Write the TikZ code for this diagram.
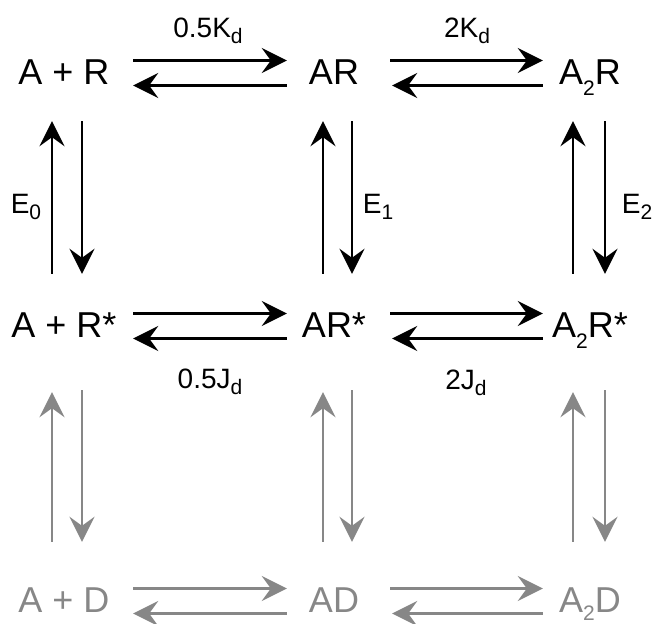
\documentclass[tikz,border=0pt]{standalone}
\usepackage{fontspec}
\setmainfont{Liberation Sans}
\usetikzlibrary{arrows.meta}
\definecolor{lgray}{RGB}{135,135,135}
\newcommand{\subt}[2][6pt]{\raisebox{-#1}{\fontsize{21}{21}\selectfont #2}}

\begin{document}
\begin{tikzpicture}[x=1pt,y=-1pt,
    species/.style={font=\fontsize{36}{40}\selectfont, minimum height=100pt,
      inner sep=0pt, text height=26pt, text depth=0pt},
    col1/.style={species, minimum width=138pt},
    col2/.style={species, minimum width=94pt},
    col3/.style={species, minimum width=94pt},
    rate/.style={font=\fontsize{28}{32}\selectfont, inner sep=0pt, anchor=base},
    rxn/.style={line width=2.8pt, -{Stealth[length=25pt,width=25pt,inset=9pt]}},
    dead/.style={rxn, color=lgray},
    deadup/.style={dead, shorten <=7pt, shorten >=18pt},
    deaddown/.style={dead, shorten <=16pt, shorten >=7pt}]
        \useasboundingbox (0,0) rectangle (657,624);
        % species
        \node[col1] (ar0) at (64,71) {A + R};
        \node[col2] (ar1) at (334,71) {AR};
        \node[col3] (ar2) at (590,71) {A\subt[11pt]{2}R};
        \node[col1] (as0) at (64,324) {A + R*};
        \node[col2] (as1) at (334,324) {AR*};
        \node[col3] (as2) at (590,324) {A\subt[11pt]{2}R*};
        \node[col1,text=lgray] (ad0) at (64,599) {A + D};
        \node[col2,text=lgray] (ad1) at (334,599) {AD};
        \node[col3,text=lgray] (ad2) at (590,599) {A\subt[8pt]{2}D};
        % rate labels
        \node[rate] (k1) at (208,37) {0.5K\subt{d}};
        \node[rate] (k2) at (467,37) {2K\subt{d}};
        \node[rate] (e0) at (26,213) {E\subt{0}};
        \node[rate] (e1) at (378,213) {E\subt{1}};
        \node[rate] (e2) at (637,213) {E\subt{2}};
        \node[rate] (j1) at (210,388) {0.5J\subt{d}};
        \node[rate] (j2) at (466,389) {2J\subt{d}};
        % binding steps
        \draw[rxn] ([yshift=10.5pt]ar0.east) -- ([yshift=10.5pt]ar1.west);
        \draw[rxn] ([yshift=-14.5pt]ar1.west) -- ([yshift=-14.5pt]ar0.east);
        \draw[rxn,shorten <=9pt] ([yshift=10.5pt]ar1.east) -- ([yshift=10.5pt]ar2.west);
        \draw[rxn,shorten >=11pt] ([yshift=-14.5pt]ar2.west) -- ([yshift=-14.5pt]ar1.east);
        \draw[rxn] ([yshift=10.5pt]as0.east) -- ([yshift=10.5pt]as1.west);
        \draw[rxn] ([yshift=-14.5pt]as1.west) -- ([yshift=-14.5pt]as0.east);
        \draw[rxn,shorten <=9pt] ([yshift=10.5pt]as1.east) -- ([yshift=10.5pt]as2.west);
        \draw[rxn,shorten >=11pt] ([yshift=-14.5pt]as2.west) -- ([yshift=-14.5pt]as1.east);
        \draw[dead] ([yshift=10.5pt]ad0.east) -- ([yshift=10.5pt]ad1.west);
        \draw[dead] ([yshift=-14.5pt]ad1.west) -- ([yshift=-14.5pt]ad0.east);
        \draw[dead,shorten <=9pt] ([yshift=10.5pt]ad1.east) -- ([yshift=10.5pt]ad2.west);
        \draw[dead,shorten >=11pt] ([yshift=-14.5pt]ad2.west) -- ([yshift=-14.5pt]ad1.east);
        % activation steps
        \draw[rxn] ([xshift=-12pt]as0.north) -- ([xshift=-12pt]ar0.south);
        \draw[rxn] ([xshift=18pt]ar0.south) -- ([xshift=18pt]as0.north);
        \draw[rxn] ([xshift=-11pt]as1.north) -- ([xshift=-11pt]ar1.south);
        \draw[rxn] ([xshift=18pt]ar1.south) -- ([xshift=18pt]as1.north);
        \draw[rxn] ([xshift=-17pt]as2.north) -- ([xshift=-17pt]ar2.south);
        \draw[rxn] ([xshift=15pt]ar2.south) -- ([xshift=15pt]as2.north);
        % desensitisation steps
        \draw[deadup] ([xshift=-12pt]ad0.north) -- ([xshift=-12pt]as0.south);
        \draw[deaddown] ([xshift=18pt]as0.south) -- ([xshift=18pt]ad0.north);
        \draw[deadup] ([xshift=-11pt]ad1.north) -- ([xshift=-11pt]as1.south);
        \draw[deaddown] ([xshift=18pt]as1.south) -- ([xshift=18pt]ad1.north);
        \draw[deadup] ([xshift=-17pt]ad2.north) -- ([xshift=-17pt]as2.south);
        \draw[deaddown] ([xshift=15pt]as2.south) -- ([xshift=15pt]ad2.north);
\end{tikzpicture}
\end{document}
